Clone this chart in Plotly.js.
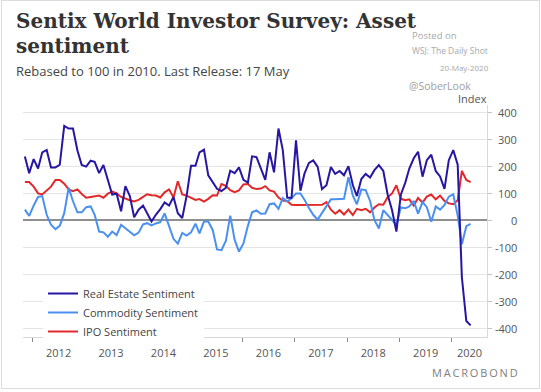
<!DOCTYPE html>
<html><head><meta charset="utf-8">
<script src="https://cdn.plot.ly/plotly-3.0.1.min.js"></script>
<style>
html,body{margin:0;padding:0;background:#fff}
#wrap{position:relative;width:541px;height:392px}
#chart{width:541px;height:392px}
#frame{position:absolute;left:1px;top:0;width:537px;height:387px;border:1px solid #dcdcdc;pointer-events:none}
</style>
</head><body><div id="wrap"><div id="chart"></div><div id="frame"></div></div>
<script>
// Monthly observations, first one Nov 2011, last one May 2020
const startYear = 2011, startMonth = 11;

const realEstate = [237,175,227,192,252,261,196,196,206,350,
  340,340,259,205,199,221,217,175,205,152,
  96,99,34,127,90,12,40,55,27,-4,
  21,42,67,55,87,27,9,90,202,202,
  252,262,167,140,117,109,121,184,175,196,
  150,140,237,234,192,150,252,178,340,260,
  84,84,296,110,173,213,222,198,116,130,
  198,172,183,167,201,130,90,153,172,159,
  186,205,183,96,38,-41,95,140,192,230,
  254,162,223,243,183,163,117,223,260,206,
  -210,-372,-388];

const commodity = [40,17,55,87,90,21,-16,-32,-20,27,
  121,71,30,30,49,52,21,-41,-44,-60,
  -41,-54,-16,-29,-42,-55,-45,-14,-10,-18,
  -11,-6,26,-22,-68,-86,-46,-56,-44,-12,
  -48,-4,-4,-35,-107,-110,-75,18,-72,-115,
  -85,-20,30,37,25,26,60,63,43,83,
  70,82,100,100,77,46,21,3,27,52,
  78,78,78,80,160,92,60,115,112,72,
  2,-30,38,21,4,-16,48,45,52,72,
  25,68,49,-5,52,40,57,88,97,18,
  -88,-21,-13];

const ipo = [142,142,125,100,96,112,125,150,150,136,
  115,108,115,98,84,87,90,92,84,99,
  107,100,87,80,75,70,76,87,97,93,
  92,85,104,115,85,145,96,92,84,76,
  79,70,80,93,92,135,128,112,105,111,
  133,135,121,116,118,127,111,107,85,74,
  72,58,57,57,56,56,56,56,58,68,
  40,25,38,22,40,20,43,38,43,30,
  48,60,58,86,100,130,80,75,78,55,
  83,66,88,96,78,92,72,63,60,75,
  183,150,142];

const seriesNames = ['Real Estate Sentiment', 'Commodity Sentiment', 'IPO Sentiment'];
const yTickVals = [400, 300, 200, 100, 0, -100, -200, -300, -400];
const yTickText = ['400', '300', '200', '100', '0', '-100', '-200', '-300', '-400'];
const yearLabels = ['2012', '2013', '2014', '2015', '2016', '2017', '2018', '2019', '2020'];

// ---- derived helpers ----
const dates = realEstate.map((_, k) => {
  const m0 = (startMonth - 1) + k;
  const y = startYear + Math.floor(m0 / 12);
  const m = (m0 % 12) + 1;
  return y + '-' + String(m).padStart(2, '0') + '-10';
});
const xRange = ['2011-10-28', '2020-09-01'];
const yearStarts = yearLabels.map(y => y + '-01-01');
const labelPos = yearLabels.map((y, i) => {
  const a = Date.parse(y + '-01-01');
  const next = i < yearLabels.length - 1 ? Date.parse(yearLabels[i + 1] + '-01-01') : Date.parse(xRange[1]);
  const b = Math.min(next, Date.parse(xRange[1]));
  return new Date((a + b) / 2).toISOString().slice(0, 10);
});

const W = 541, H = 392;
const M = {l: 23, r: 54, t: 105, b: 55};
const PW = W - M.l - M.r, PH = H - M.t - M.b;
const px = x => (x - M.l) / PW;
const py = y => (H - M.b - y) / PH;

const FONT = 'Open Sans, Noto Sans, sans-serif';
const SERIF = 'DejaVu Serif, Liberation Serif, serif';
const colors = {re: '#2616a2', co: '#4a90f0', ipo: '#e3282a'};

const traces = [
  {x: dates, y: ipo, name: seriesNames[2], type: 'scatter', mode: 'lines',
   line: {color: colors.ipo, width: 2}},
  {x: dates, y: commodity, name: seriesNames[1], type: 'scatter', mode: 'lines',
   line: {color: colors.co, width: 2}},
  {x: dates, y: realEstate, name: seriesNames[0], type: 'scatter', mode: 'lines',
   line: {color: colors.re, width: 2}}
];

const ann = [];
function txt(text, x, y, size, color, opts) {
  ann.push(Object.assign({text: text, x: px(x), y: py(y), xref: 'paper', yref: 'paper',
    xanchor: 'left', yanchor: 'middle', showarrow: false,
    font: {family: FONT, size: size, color: color}}, opts || {}));
}
txt('<b>Sentix World Investor Survey: Asset</b>', 14, 21, 20, '#333',
  {font: {family: SERIF, size: 20, color: '#333'}});
txt('<b>sentiment</b>', 14, 46, 20, '#333',
  {font: {family: SERIF, size: 20, color: '#333'}});
txt('Rebased to 100 in 2010. Last Release: 17 May', 14, 71, 13, '#454545');
txt('Posted on', 410, 35, 9.5, '#a8a8a8');
txt('WSJ: The Daily Shot', 410, 51, 8.5, '#a8a8a8');
txt('20-May-2020', 438, 67, 8, '#a8a8a8');
txt('@SoberLook', 407, 86, 10.5, '#a0a0a0');
txt('Index', 456, 98, 11, '#555');
txt('M\u2009A\u2009C\u2009R\u2009O\u2009B\u2009O\u2009N\u2009D', 520, 372, 11, '#808080', {xanchor: 'right'});

yTickVals.forEach((v, i) => {
  ann.push({text: yTickText[i], x: px(519), y: v, xref: 'paper', yref: 'y',
    xanchor: 'right', yanchor: 'middle', showarrow: false,
    font: {family: FONT, size: 11, color: '#555'}});
});

const layout = {
  width: W, height: H,
  margin: M,
  paper_bgcolor: '#fff', plot_bgcolor: '#fff',
  showlegend: true,
  legend: {x: px(43), y: py(279), xanchor: 'left', yanchor: 'top',
    bgcolor: '#fff', borderwidth: 0, traceorder: 'reversed',
    font: {family: FONT, size: 11, color: '#444'}},
  xaxis: {type: 'date', range: xRange, showgrid: false, zeroline: false,
    showline: true, linecolor: '#d9d9d9', linewidth: 1,
    tickmode: 'array', tickvals: labelPos, ticktext: yearLabels, ticks: '',
    ticklabelstandoff: 6,
    tickfont: {family: FONT, size: 11, color: '#555'},
    minor: {tickmode: 'array', tickvals: yearStarts, ticks: 'outside', ticklen: 4,
      tickwidth: 1, tickcolor: '#888', showgrid: false}},
  yaxis: {range: [-431, 427], side: 'right', tickmode: 'array', tickvals: yTickVals,
    showticklabels: false, ticks: 'outside', ticklen: 4, tickcolor: '#c4c4c4',
    showgrid: true, gridcolor: '#e4e4e4', gridwidth: 1,
    zeroline: true, zerolinecolor: '#8f8f8f', zerolinewidth: 2,
    showline: true, linecolor: '#d9d9d9', linewidth: 1},
  annotations: ann
};

Plotly.newPlot('chart', traces, layout, {staticPlot: true, displayModeBar: false});
</script>
</body></html>
